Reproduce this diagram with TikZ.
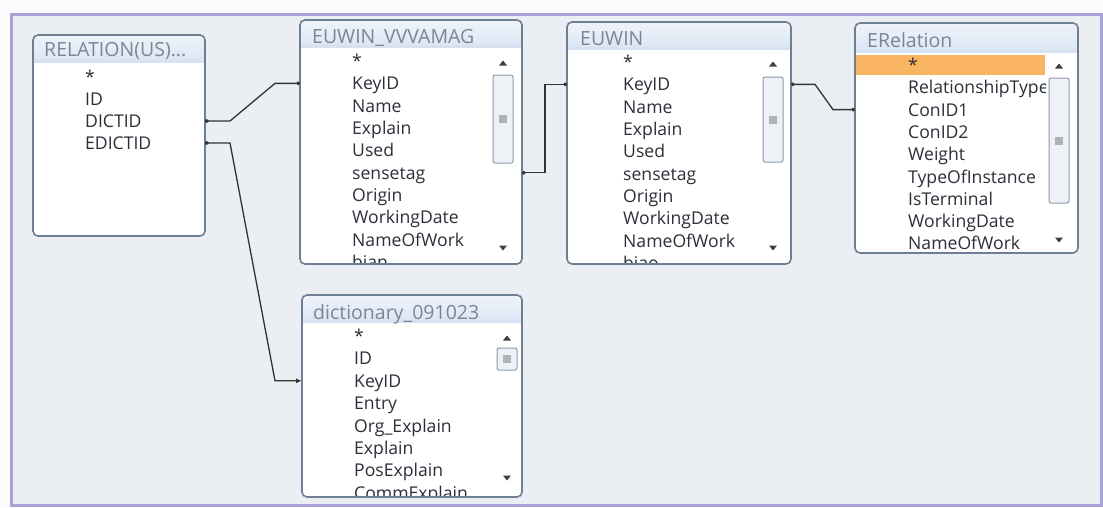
\documentclass[tikz,border=0pt]{standalone}
\usepackage{fontspec}
\setmainfont{Open Sans}
\usetikzlibrary{arrows.meta,calc}
\definecolor{bg}{HTML}{EBEEF2}
\definecolor{framec}{HTML}{A9A4D8}
\definecolor{tborder}{HTML}{6F7F93}
\definecolor{ttl}{HTML}{D6E2F2}
\definecolor{ttltext}{HTML}{7A8596}
\definecolor{rowtext}{HTML}{2E2E3A}
\definecolor{hl}{HTML}{F9B462}
\definecolor{sbthumb}{HTML}{8E9AAB}
\definecolor{sbfill}{HTML}{EEF1F5}
\definecolor{wire}{HTML}{333333}
\tikzset{
  tblnode/.style={inner sep=0pt, outer sep=0pt, anchor=north west, draw=none},
  tblframe/.style={draw=tborder, line width=1.6pt, rounded corners=5pt},
  rowtxt/.style={inner sep=0pt, anchor=base west, text=rowtext, font=\fontsize{17.6}{19}\selectfont},
  ttltxt/.style={inner sep=0pt, anchor=base west, text=ttltext, font=\fontsize{19.5}{21}\selectfont},
  wireln/.style={draw=wire, line width=1.3pt, {Circle[length=3.6pt]}-{Circle[length=3.6pt]}},
  sbarrow/.style={fill=black!75},
  thumb/.style={draw=sbthumb, fill=sbfill, line width=1pt, rounded corners=2pt},
  up/.style={yshift=6.5pt},
}
% name, x1, y1, x2, y2, title bar bottom
\newcommand\mktbl[6]{%
  \node[tblnode, minimum width={#4pt-#2pt}, minimum height={#5pt-#3pt}] (#1) at (#2,#3) {};
  \fill[white, rounded corners=5pt] (#2,#3) rectangle (#4,#5);
  \fill[top color=ttl!40, bottom color=ttl, rounded corners=5pt] (#2,#3) rectangle (#4,{#6+5});
  \fill[ttl] (#2,{#6-3}) rectangle (#4,#6);
  \fill[white] (#2,#6) rectangle (#4,{#6+6});
  \draw[tblframe] (#2,#3) rectangle (#4,#5);
}
% x1, x2, up y, thumb top, thumb bottom, down y
\newcommand\mksb[6]{%
  \fill[sbarrow] ({(#1+#2)/2-4},{#3+2.5}) -- ({(#1+#2)/2+4},{#3+2.5}) -- ({(#1+#2)/2},{#3-2.5}) -- cycle;
  \fill[sbarrow] ({(#1+#2)/2-4},{#6-2.5}) -- ({(#1+#2)/2+4},{#6-2.5}) -- ({(#1+#2)/2},{#6+2.5}) -- cycle;
  \draw[thumb] ({#1+1},#4) rectangle ({#2-1},#5);
  \fill[black!30] ({(#1+#2)/2-4},{(#4+#5)/2-4}) rectangle ({(#1+#2)/2+4},{(#4+#5)/2+4});
}
\begin{document}
\begin{tikzpicture}[x=1pt,y=-1pt]
\useasboundingbox (0,0) rectangle (1103,507);
\fill[white!97!framec] (0,0) rectangle (1103,507);
\fill[bg] (11,14) rectangle (1101.5,505.5);
\draw[framec, line width=3pt] (11,14) rectangle (1101.5,505.5);

% RELATION table
\mktbl{rel}{33}{35}{205}{236}{63}
\node[ttltxt] (relt) at (44,56) {RELATION(US)...};
\foreach \t [count=\i from 0] in {*,ID,DICTID,EDICTID}
  \node[rowtxt] (rel\i) at (85,{77+22*\i+6.5}) {\t};

% EUWIN_VVVAMAG
\mktbl{vv}{300}{20}{522}{264}{48}
\node[ttltxt] (vvt) at (312,43) {EUWIN\_VVVAMAG};
\begin{scope}
\clip (301,49) rectangle (490,262);
\foreach \t [count=\i from 0] in {*,KeyID,Name,Explain,Used,sensetag,Origin,WorkingDate,NameOfWork,bian}
  \node[rowtxt] (vv\i) at (352,{61+22.35*\i+6.5}) {\t};
\end{scope}
\mksb{492}{514}{63}{75}{163}{248}

% EUWIN
\mktbl{eu}{567}{22}{791}{264}{50}
\node[ttltxt] (eut) at (580,45) {EUWIN};
\begin{scope}
\clip (568,51) rectangle (760,262);
\foreach \t [count=\i from 0] in {*,KeyID,Name,Explain,Used,sensetag,Origin,WorkingDate,NameOfWork,biao}
  \node[rowtxt] (eu\i) at (623,{62+22.35*\i+6.5}) {\t};
\end{scope}
\mksb{762}{784}{64}{77}{162}{248}

% ERelation
\mktbl{er}{855}{23}{1078}{253}{53}
\node[ttltxt] (ert) at (867,47) {ERelation};
\fill[hl] (856,55) rectangle (1045,75);
\begin{scope}
\clip (856,54) rectangle (1045,251);
\foreach \t [count=\i from 0] in {*,RelationshipType,ConID1,ConID2,Weight,TypeOfInstance,IsTerminal,WorkingDate,NameOfWork}
  \node[rowtxt] (er\i) at (908,{65+22.3*\i+6.5}) {\t};
\end{scope}
\mksb{1048}{1070}{66}{78}{203}{240}

% dictionary_091023
\mktbl{dict}{302}{295}{522}{497}{323}
\node[ttltxt] (dictt) at (313,319) {dictionary\_091023};
\begin{scope}
\clip (303,324) rectangle (492,495);
\foreach \t [count=\i from 0] in {*,ID,KeyID,Entry,Org\_Explain,Explain,PosExplain,CommExplain}
  \node[rowtxt] (dict\i) at (354,{336+22.4*\i+6.5}) {\t};
\end{scope}
\mksb{496}{518}{338}{348}{370}{478}

% connectors
\draw[wireln] ([up]rel.east |- rel2.base) -- ++(25,0) -- ([up,xshift=-25pt]vv.west |- vv1.base) -- ([up]vv.west |- vv1.base);
\draw[draw=wire, line width=1.3pt, {Circle[length=3.6pt]}-{Latex[length=6pt,width=5pt]}] ([up]rel.east |- rel3.base) -- ++(25,0) -- ([up,xshift=-27pt]dict.west |- dict2.base) -- ([up]dict.west |- dict2.base);
\draw[wireln] ([up]vv.east |- vv5.base) -- ++(23,0) |- ([up]eu.west |- eu1.base);
\draw[wireln] ([up]eu.east |- eu1.base) -- ++(24,0) -- ([up,xshift=-22pt]er.west |- er2.base) -- ([up]er.west |- er2.base);
\end{tikzpicture}
\end{document}
